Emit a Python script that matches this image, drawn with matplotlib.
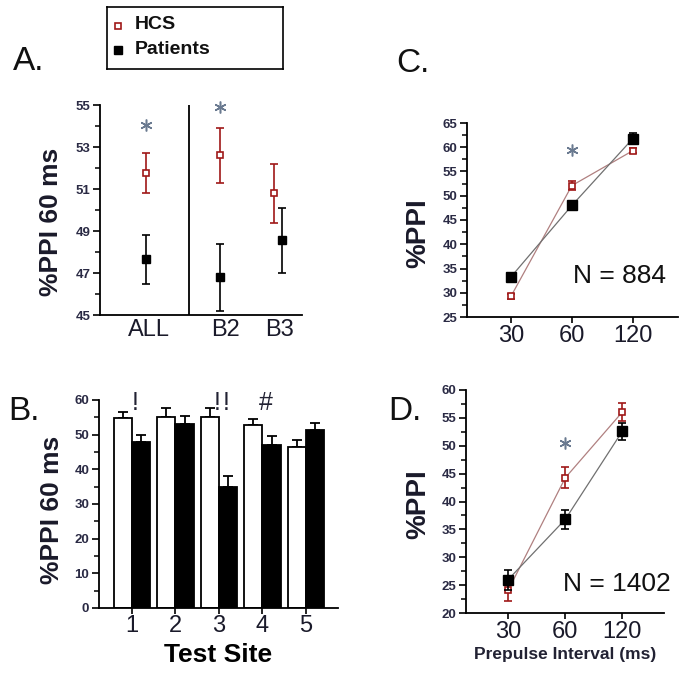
import matplotlib
matplotlib.use("Agg")
import matplotlib.pyplot as plt
from matplotlib.ticker import MultipleLocator, FixedLocator
import numpy as np

plt.rcParams['font.family'] = ['Liberation Sans', 'DejaVu Sans']

# ---------------- data ----------------
# Panel A
a_groups = ["ALL", "B2", "B3"]
a_hcs = [51.75, 52.6, 50.8]
a_hcs_err = [0.95, 1.3, 1.4]
a_pat = [47.65, 46.8, 48.55]
a_pat_err = [1.15, 1.6, 1.55]
a_yticks = [45, 47, 49, 51, 53, 55]

# Panel B
b_sites = [1, 2, 3, 4, 5]
b_hcs = [54.7, 55.0, 55.0, 52.9, 46.5]
b_hcs_err = [1.7, 2.6, 2.6, 1.6, 2.1]
b_pat = [47.8, 53.0, 35.0, 47.0, 51.3]
b_pat_err = [2.1, 2.4, 3.2, 2.7, 2.0]
b_marks = ["!", "", "!\u200a!", "#", ""]

# Panel C
intervals = ["30", "60", "120"]
c_hcs = [29.25, 52.1, 59.3]
c_hcs_err = [0.5, 0.9, 0.5]
c_pat = [33.25, 48.0, 61.8]
c_pat_err = [0.7, 0.8, 1.2]

# Panel D
d_hcs = [24.1, 44.25, 56.05]
d_hcs_err = [1.9, 1.9, 1.6]
d_pat = [26.0, 36.8, 52.6]
d_pat_err = [1.8, 1.7, 1.5]

W, H = 692, 675
fig = plt.figure(figsize=(W / 100, H / 100), dpi=100)

def box(l, t, r, b):
    return [l / W, 1 - b / H, (r - l) / W, (b - t) / H]

def fx(x):
    return x / W

def fy(y):
    return 1 - y / H

RED = "#a01818"
TICKC = "#2a2a44"
STARC = "#6a7a90"

def style_ax(ax):
    for s in ["top", "right"]:
        ax.spines[s].set_visible(False)
    for s in ["left", "bottom"]:
        ax.spines[s].set_linewidth(1.3)
    ax.tick_params(axis="y", which="major", length=5, width=1.2, labelsize=9.5,
                   labelcolor=TICKC, pad=2)
    ax.tick_params(axis="y", which="minor", length=3.5, width=1.1)
    for lab in ax.get_yticklabels():
        lab.set_fontweight("bold")

def star(ax, x, y):
    ax.plot([x], [y], marker=(6, 2, 0), ms=8.5, mew=1.1, color=STARC, clip_on=False,
            zorder=5)

# ---------------- Panel A ----------------
axA = fig.add_axes(box(100, 105, 302, 315))
xa_hcs = [0.0, 1.0, 1.73]
xa_pat = [0.0, 1.0, 1.84]
axA.errorbar(xa_hcs, a_hcs, yerr=a_hcs_err, fmt="s", color=RED, mfc="white",
             mec=RED, ms=4.5, mew=1.2, capsize=3, elinewidth=1.2, capthick=1.2, zorder=3)
axA.errorbar(xa_pat, a_pat, yerr=a_pat_err, fmt="s", color="black", mfc="black",
             ms=6, capsize=3, elinewidth=1.2, capthick=1.2, zorder=3)
axA.set_xlim(-0.62, 2.11)
axA.set_ylim(45, 55)
axA.yaxis.set_major_locator(FixedLocator(a_yticks))
axA.yaxis.set_minor_locator(FixedLocator([t + 1 for t in a_yticks[:-1]]))
axA.axvline(0.58, color="black", lw=1.3)
axA.set_xticks([0.04, 1.07, 1.8])
axA.set_xticklabels(a_groups, fontsize=17, color="#1a1a2a")
axA.tick_params(axis="x", length=0, pad=3)
style_ax(axA)
star(axA, 0.0, 54.05)
star(axA, 1.0, 54.9)

# ---------------- Panel B ----------------
axB = fig.add_axes(box(99, 400, 338, 608))
bw = 0.42
xs = np.array(b_sites, dtype=float)
axB.bar(xs - bw / 2, b_hcs, width=bw, color="white", edgecolor="black", lw=1.3, zorder=2)
axB.bar(xs + bw / 2, b_pat, width=bw, color="black", edgecolor="black", lw=1.3, zorder=2)
axB.errorbar(xs - bw / 2, b_hcs, yerr=[np.zeros(5), b_hcs_err], fmt="none", ecolor="black",
             capsize=3.5, elinewidth=1.3, capthick=1.3, zorder=1)
axB.errorbar(xs + bw / 2, b_pat, yerr=[np.zeros(5), b_pat_err], fmt="none", ecolor="black",
             capsize=3.5, elinewidth=1.3, capthick=1.3, zorder=1)
axB.set_xlim(0.24, 5.74)
axB.set_ylim(0, 60)
axB.yaxis.set_major_locator(MultipleLocator(10))
axB.yaxis.set_minor_locator(MultipleLocator(5))
axB.set_xticks(xs)
axB.set_xticklabels([str(s) for s in b_sites], fontsize=17, color="#1a1a2a")
axB.tick_params(axis="x", length=4, width=1.2, pad=1)
style_ax(axB)
for x, m in zip(xs, b_marks):
    if m:
        axB.text(x + 0.08, 59, m, ha="center", va="center", fontsize=18, color="#222233")
axB.set_xlabel("Test Site", fontsize=19, fontweight="bold", labelpad=4)

# ---------------- Panel C ----------------
axC = fig.add_axes(box(467, 123, 678, 317))
xc = np.arange(3)
axC.plot(xc, c_hcs, color="#b08080", lw=0.9, zorder=2)
axC.plot(xc, c_pat, color="#707070", lw=0.9, zorder=2)
axC.errorbar(xc, c_hcs, yerr=c_hcs_err, fmt="s", color=RED, mfc="white", mec=RED,
             ms=5, mew=1.2, capsize=3, elinewidth=1.2, capthick=1.2, zorder=3)
axC.errorbar(xc, c_pat, yerr=c_pat_err, fmt="s", color="black", mfc="black",
             ms=7, capsize=3, elinewidth=1.2, capthick=1.2, zorder=4)
axC.set_xlim(-0.72, 2.74)
axC.set_ylim(25, 65)
axC.yaxis.set_major_locator(MultipleLocator(5))
axC.yaxis.set_minor_locator(MultipleLocator(2.5))
axC.set_xticks(xc)
axC.set_xticklabels(intervals, fontsize=17, color="#1a1a2a")
axC.tick_params(axis="x", length=4, width=1.2, pad=2)
style_ax(axC)
star(axC, 1.0, 59.5)
axC.text(2.55, 33.5, "N = 884", ha="right", va="center", fontsize=19, color="#111111")

# ---------------- Panel D ----------------
axD = fig.add_axes(box(466, 390, 664, 613))
axD.plot(xc, d_hcs, color="#b08080", lw=0.9, zorder=2)
axD.plot(xc, d_pat, color="#707070", lw=0.9, zorder=2)
axD.errorbar(xc, d_hcs, yerr=d_hcs_err, fmt="s", color=RED, mfc="white", mec=RED,
             ms=5, mew=1.2, capsize=3, elinewidth=1.2, capthick=1.2, zorder=3)
axD.errorbar(xc, d_pat, yerr=d_pat_err, fmt="s", color="black", mfc="black",
             ms=7, capsize=3, elinewidth=1.2, capthick=1.2, zorder=4)
axD.set_xlim(-0.74, 2.73)
axD.set_ylim(20, 60)
axD.yaxis.set_major_locator(MultipleLocator(5))
axD.yaxis.set_minor_locator(MultipleLocator(2.5))
axD.set_xticks(xc)
axD.set_xticklabels(intervals, fontsize=17, color="#1a1a2a")
axD.tick_params(axis="x", length=4, width=1.2, pad=2)
style_ax(axD)
star(axD, 1.0, 50.5)
axD.text(2.85, 25.2, "N = 1402", ha="right", va="center", fontsize=19, color="#111111",
         clip_on=False)
axD.set_xlabel("Prepulse Interval (ms)", fontsize=12.5, fontweight="bold", color="#222233",
               labelpad=3)

# ---------------- y labels ----------------
fig.text(fx(51), fy(222), "%PPI 60 ms", rotation=90, ha="center", va="center",
         fontsize=19, fontweight="bold", color="#1a1a2a")
fig.text(fx(52), fy(510), "%PPI 60 ms", rotation=90, ha="center", va="center",
         fontsize=19, fontweight="bold", color="#1a1a2a")
fig.text(fx(418), fy(233), "%PPI", rotation=90, ha="center", va="center",
         fontsize=20, fontweight="bold", color="#1a1a2a")
fig.text(fx(418), fy(504), "%PPI", rotation=90, ha="center", va="center",
         fontsize=20, fontweight="bold", color="#1a1a2a")

# ---------------- panel letters ----------------
for lx, ly, lt in [(13, 62, "A."), (8, 412, "B."), (396, 63, "C."), (388, 412, "D.")]:
    fig.text(fx(lx), fy(ly), lt, ha="left", va="center", fontsize=24, color="#111111")

# ---------------- legend ----------------
legax = fig.add_axes(box(107, 7, 283, 69))
legax.set_xlim(0, 1)
legax.set_ylim(0, 1)
legax.set_xticks([])
legax.set_yticks([])
for s in legax.spines.values():
    s.set_linewidth(1.2)
legax.plot([0.065], [0.70], "s", mfc="white", mec=RED, ms=5, mew=1.2)
legax.plot([0.065], [0.30], "s", mfc="black", mec="black", ms=6)
legax.text(0.16, 0.71, "HCS", ha="left", va="center", fontsize=14, fontweight="bold",
           color="#111111")
legax.text(0.16, 0.31, "Patients", ha="left", va="center", fontsize=14, fontweight="bold",
           color="#111111")

fig.savefig("out.png", dpi=100)
